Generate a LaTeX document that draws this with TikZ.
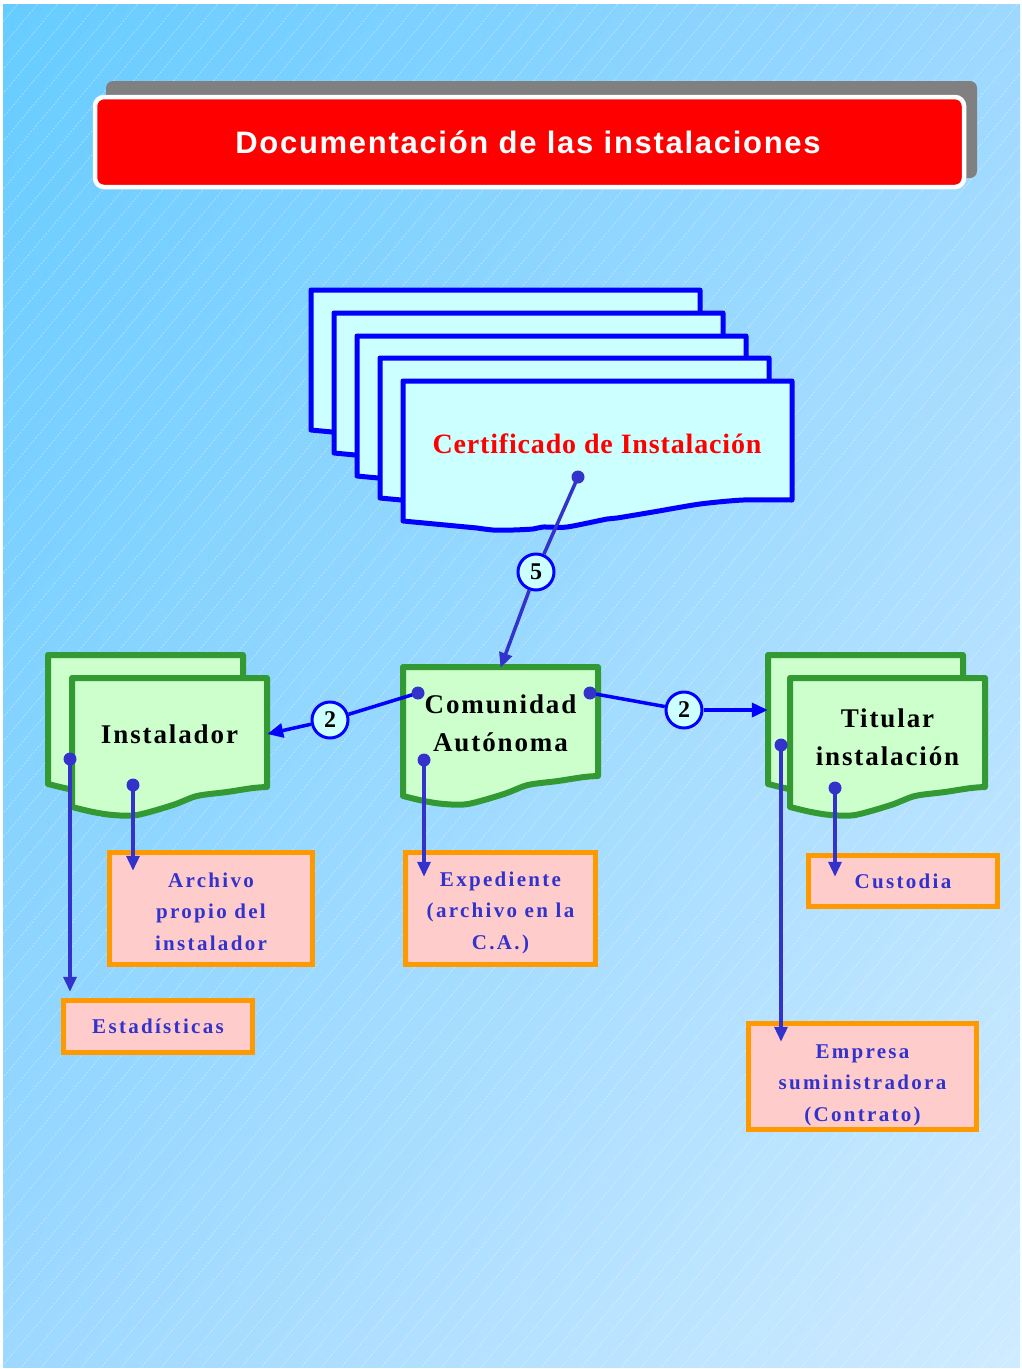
\documentclass[tikz,border=0pt]{standalone}
\usepackage{fontspec}
\setmainfont{Liberation Serif}
\newfontfamily\titlefont{Liberation Sans}[LetterSpace=5.5]
\newfontfamily\spfont{Liberation Serif}[LetterSpace=7]
\newfontfamily\pkfont{Liberation Serif}[LetterSpace=11]
\newfontfamily\crfont{Liberation Serif}[LetterSpace=3]
\usetikzlibrary{arrows.meta,calc,shadings}
\definecolor{bgA}{HTML}{66CCFF}
\definecolor{bgB}{HTML}{9DD8FF}
\definecolor{bgC}{HTML}{CFEBFF}
\definecolor{certfill}{HTML}{CCFFFF}
\definecolor{pgreen}{HTML}{CCFFCC}
\definecolor{dgreen}{HTML}{339933}
\definecolor{pinkf}{HTML}{FFCCCC}
\definecolor{orangeb}{HTML}{FF9900}
\definecolor{conn}{HTML}{3333CC}
\definecolor{shadowgray}{HTML}{808080}
\definecolor{pureblue}{HTML}{0000FF}
\newcommand\certpage[2]{%
  \draw[certpg, shift={(#1,#2)}] (0,0) -- (389,0) -- (389,119)
    -- plot[smooth, tension=.4] coordinates {(389,119) (340,119) (297,123) (250,131) (214,137) (204,138) (164,146) (140,146) (130,148) (110,149) (90,149) (74,147)} -- (0,140) -- cycle;}
\newcommand\greenpage[2]{%
  \draw[greenpg, shift={(#1,#2)}] (0,0) -- (195,0) -- (195,109)
    -- plot[smooth, tension=.5] coordinates {(195,109) (181,110) (155,114) (125,118) (101,127) (65,137) (41,137) (21,134) (0,129)} -- cycle;}
\tikzset{
  certpg/.style={draw=pureblue, fill=certfill, line width=5pt, line join=round},
  greenpg/.style={draw=dgreen, fill=pgreen, line width=6pt, line join=round},
  pagebox/.style={inner sep=0pt, minimum width=195pt, minimum height=110pt, align=center,
    font=\fontsize{27}{38}\spfont\bfseries, text=black},
  pinkbox/.style={draw=orangeb, fill=pinkf, line width=5.5pt, inner sep=0pt, align=center,
    font=\fontsize{21}{31.5}\pkfont\bfseries, text=conn},
  numcirc/.style={circle, draw=pureblue, fill=certfill, line width=3pt, minimum size=36pt,
    inner sep=0pt, font=\fontsize{24}{24}\selectfont\bfseries},
  vconn/.style={draw=conn, line width=3.5pt, -{Triangle[length=15pt,width=13pt]}},
  hconn/.style={draw=pureblue, line width=3.5pt},
  hconnarr/.style={draw=pureblue, line width=3.5pt, -{Triangle[length=16pt,width=14pt]}},
  cdot/.style={fill=conn}
}
\begin{document}
\begin{tikzpicture}[x=1pt, y=-1pt]
\useasboundingbox (0,0) rectangle (1022,1369);
\fill[white] (0,0) rectangle (1022,1369);
% background
\shade[upper left=bgA, upper right=bgB, lower left=bgB, lower right=bgC] (3,4) rectangle (1020,1367);
\begin{scope}
  \clip (3,4) rectangle (1020,1367);
  \foreach \k in {-1160,-1140,...,1040} {
    \draw[white, opacity=0.4, line width=0.7pt, dash pattern=on 2pt off 1.5pt] (\k,1369) -- ++(1141,-1369);
  }
\end{scope}
% title
\fill[shadowgray, rounded corners=7pt] (106,81) rectangle (977,178);
\draw[white, line width=4.5pt, fill=red, rounded corners=9pt] (95,97) rectangle (964,187);
\node[text=white, font=\fontsize{31}{31}\titlefont\bfseries] (title) at (528,142) {Documentación de las instalaciones};
% certificate stack
\certpage{311}{290}
\certpage{334}{313}
\certpage{357}{336}
\certpage{380}{358}
\certpage{403}{381}
\node[text=red, font=\fontsize{28}{28}\crfont\bfseries] (cert) at (597,444) {Certificado de Instalación};
% green pages
\greenpage{48}{655}
\greenpage{72}{678}
\greenpage{403}{667}
\greenpage{768}{655}
\greenpage{790}{678}
\node[pagebox] (inst) at (169.5,734) {Instalador};
\node[pagebox] (com) at (500.5,723) {Comunidad\\Autónoma};
\node[pagebox] (titB) at (865.5,710) {};
\node[pagebox] (tit) at (887.5,737) {Titular\\instalación};
% pink boxes
\node[pinkbox, minimum width=203pt, minimum height=112pt] (arch) at (211,908.5) {\rule{0pt}{21pt}Archivo\\propio del\\instalador};
\node[pinkbox, minimum width=189pt, minimum height=52pt] (estad) at (158,1026.5) {Estadísticas};
\node[pinkbox, minimum width=190pt, minimum height=112pt] (exped) at (500.5,908.5) {\rule{0pt}{23pt}Expediente\\(archivo en la\\C.A.)};
\node[pinkbox, minimum width=189pt, minimum height=51pt] (cust) at (903,881) {Custodia};
\node[pinkbox, minimum width=228pt, minimum height=106pt] (empr) at (862.5,1076.5) {\rule{0pt}{31pt}Empresa\\suministradora\\(Contrato)};
% number circles
\node[numcirc] (c5) at (536,572) {5};
\node[numcirc] (c2l) at (330,720) {2};
\node[numcirc] (c2r) at (684,710) {2};
% dot coordinates
\coordinate (certDot) at (578,477);
\coordinate (comL) at (418,693);
\coordinate (comR) at (590,693);
\coordinate (comD) at (424,760);
\coordinate (instL) at (70,759);
\coordinate (instD) at (133,785);
\coordinate (titL) at (781,745);
\coordinate (titD) at (835,788);
% connectors
\draw[draw=conn, line width=3.5pt] (certDot) -- (c5);
\draw[vconn] (c5) -- (com.north);
\draw[hconn] (comL) -- (c2l);
\draw[hconnarr] (c2l) -- (inst.east);
\draw[hconn] (comR) -- (c2r);
\draw[hconnarr] (c2r) -- (titB.west);
\draw[vconn, shorten >=6pt] (instL) -- (instL |- estad.north);
\draw[vconn, shorten >=-21pt] (instD) -- (instD |- arch.north);
\draw[vconn, shorten >=-27pt] (comD) -- (comD |- exped.north);
\draw[vconn, shorten >=-21pt] (titL) -- (titL |- empr.north);
\draw[vconn, shorten >=-24pt] (titD) -- (titD |- cust.north);
\foreach \p in {certDot,comL,comR,comD,instL,instD,titL,titD} \fill[cdot] (\p) circle (6.5pt);
\end{tikzpicture}
\end{document}
